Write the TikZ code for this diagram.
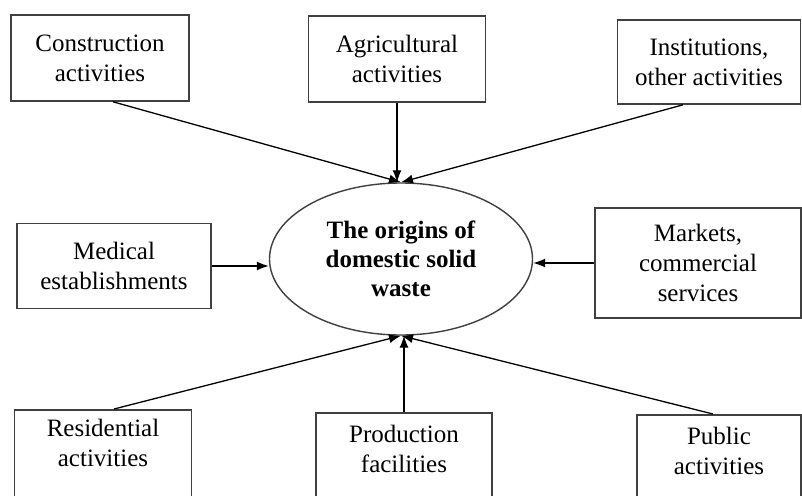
\documentclass[tikz,border=0pt]{standalone}
\usepackage{fontspec}
\setmainfont{Liberation Serif}
\usetikzlibrary{shapes.geometric,arrows.meta,positioning}

\begin{document}
\begin{tikzpicture}[x=1pt,y=-1pt,->,>={Latex[length=12pt,width=9pt]},line width=1.3pt,
  srcbox/.style={draw=black!75,line width=1.6pt,align=center,inner sep=0pt,
    font=\fontsize{25}{30}\selectfont},
  srctext/.style={align=center,inner sep=0pt,font=\fontsize{25}{30}\selectfont},
  core/.style={draw=black!75,ellipse,line width=1.4pt,align=center,inner sep=0pt,
    minimum width=263pt,minimum height=152pt,font=\fontsize{25}{29}\selectfont\bfseries}]
  \useasboundingbox[fill=white] (0,0) rectangle (802,495);
  % centre
  \node[core] (ell) at (401,259) {The origins of\\domestic solid\\waste};
  % top row
  \node[srcbox,minimum width=178pt,minimum height=86pt] (con) at (100,58) {Construction\\activities};
  \node[srcbox,minimum width=177pt,minimum height=86pt] (agr) at (397,59) {Agricultural\\activities};
  \node[srcbox,minimum width=183pt,minimum height=84pt] (ins) at (709,62) {Institutions,\\other activities};
  % middle row
  \node[srcbox,minimum width=194pt,minimum height=85pt] (med) at (114,266) {Medical\\establishments};
  \node[srcbox,minimum width=206pt,minimum height=110pt] (mar) at (698,263) {Markets,\\commercial\\services};
  % bottom row, boxes run off the page
  \node[srcbox,anchor=north,minimum width=177pt,minimum height=110pt] (res) at (103,409) {};
  \node[srcbox,anchor=north,minimum width=176pt,minimum height=110pt] (pro) at (404,412) {};
  \node[srcbox,anchor=north,minimum width=164pt,minimum height=110pt] (pub) at (719,414) {};
  \node[srctext,below=9pt of res.north] (restxt) {Residential\\activities};
  \node[srctext,below=12pt of pro.north] (protxt) {Production\\facilities};
  \node[srctext,below=12pt of pub.north] (pubtxt) {Public\\activities};
  % arrows
  \draw ([xshift=13pt]con.south) -- (ell.north);
  \draw (agr.south) -- (agr.south |- ell.north);
  \draw ([xshift=-26pt]ins.south) -- (ell.north);
  \draw (med.east) -- (med.east -| ell.west);
  \draw (mar.west) -- (mar.west -| ell.east);
  \draw ([xshift=11pt]res.north) -- (ell.south);
  \draw (pro.north) -- (pro.north |- ell.south);
  \draw ([xshift=-6pt]pub.north) -- (ell.south);
\end{tikzpicture}
\end{document}
